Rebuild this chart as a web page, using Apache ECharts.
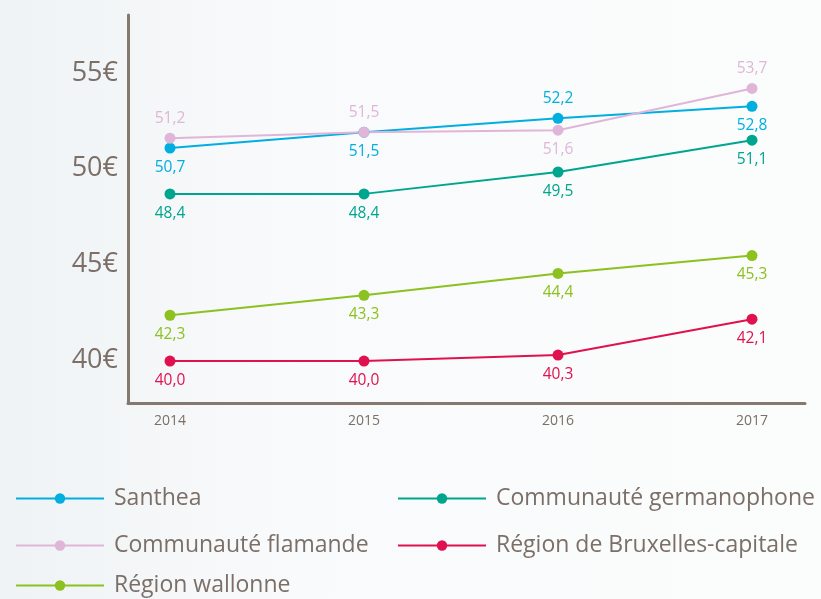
<!DOCTYPE html>
<html>
<head>
<meta charset="utf-8">
<script src="https://cdn.jsdelivr.net/npm/echarts@6/dist/echarts.min.js"></script>
<style>html,body{margin:0;padding:0;}#c{width:821px;height:599px;}</style>
</head>
<body>
<div id="c"></div>
<script>
var years = [2014, 2015, 2016, 2017];
var yTicks = [40, 45, 50, 55];
var santhea = [50.7, 51.5, 52.2, 52.8];
var flamande = [51.2, 51.5, 51.6, 53.7];
var germanophone = [48.4, 48.4, 49.5, 51.1];
var bruxelles = [40.0, 40.0, 40.3, 42.1];
var wallonne = [42.3, 43.3, 44.4, 45.3];

var textColor = '#7b6f67';
var axisColor = '#857870';
var font = 'Open Sans';

function mk(name, values, color, positions) {
  return {
    name: name,
    type: 'line',
    yAxisIndex: 0,
    symbol: 'circle',
    symbolSize: 11,
    lineStyle: { color: color, width: 2 },
    itemStyle: { color: color },
    data: values.map(function (v, i) {
      return {
        value: [years[i], v],
        label: { position: positions[i] }
      };
    }),
    label: {
      show: true,
      distance: 6,
      color: color,
      fontFamily: font,
      fontSize: 15.5,
      formatter: function (p) { return p.value[1].toFixed(1).replace('.', ','); }
    },
    z: 3
  };
}

var legendText = { color: textColor, fontFamily: font, fontSize: 23, padding: [0, 0, 0, 5] };
function lg(name, left, top) {
  return {
    left: left, top: top, padding: 0,
    itemWidth: 88, itemHeight: 13,
    textStyle: legendText,
    data: [name]
  };
}

var chart = echarts.init(document.getElementById('c'));
chart.setOption({
  backgroundColor: {
    type: 'linear', x: 0, y: 0, x2: 1, y2: 0,
    colorStops: [{ offset: 0, color: '#eff3f5' }, { offset: 0.35, color: '#f9fafb' }, { offset: 1, color: '#fbfcfc' }]
  },
  animation: false,
  grid: { left: 128, right: 16, top: 15, bottom: 196 },
  xAxis: {
    type: 'value',
    min: 2013.7835,
    max: 2017.2732,
    axisLine: { show: true, lineStyle: { color: axisColor, width: 3 } },
    axisTick: { show: false },
    splitLine: { show: false },
    axisLabel: {
      customValues: years,
      color: textColor,
      fontFamily: font,
      fontSize: 14,
      margin: 11,
      formatter: function (v) { return String(v); }
    }
  },
  yAxis: [
    {
      type: 'value',
      min: 37.89,
      max: 57.39,
      axisLine: { show: true, lineStyle: { color: axisColor, width: 3 } },
      axisTick: { show: false },
      splitLine: { show: false },
      axisLabel: { show: false }
    },
    {
      type: 'value',
      position: 'left',
      min: 37.752,
      max: 58.032,
      axisLine: { show: false },
      axisTick: { show: false },
      splitLine: { show: false },
      axisLabel: {
        customValues: yTicks,
        color: textColor,
        fontFamily: font,
        fontSize: 27,
        margin: 10,
        formatter: function (v) { return v + '€'; }
      }
    }
  ],
  legend: [
    lg('Santhea', 15, 487),
    lg('Communauté flamande', 15, 534),
    lg('Région wallonne', 15, 574),
    lg('Communauté germanophone', 397, 487),
    lg('Région de Bruxelles-capitale', 397, 534)
  ],
  series: [
    mk('Santhea', santhea, '#00afe0', ['bottom', 'bottom', 'top', 'bottom']),
    mk('Communauté flamande', flamande, '#e0b6d8', ['top', 'top', 'bottom', 'top']),
    mk('Communauté germanophone', germanophone, '#00a58e', ['bottom', 'bottom', 'bottom', 'bottom']),
    mk('Région de Bruxelles-capitale', bruxelles, '#e0114e', ['bottom', 'bottom', 'bottom', 'bottom']),
    mk('Région wallonne', wallonne, '#8cc11f', ['bottom', 'bottom', 'bottom', 'bottom'])
  ]
});
</script>
</body>
</html>
